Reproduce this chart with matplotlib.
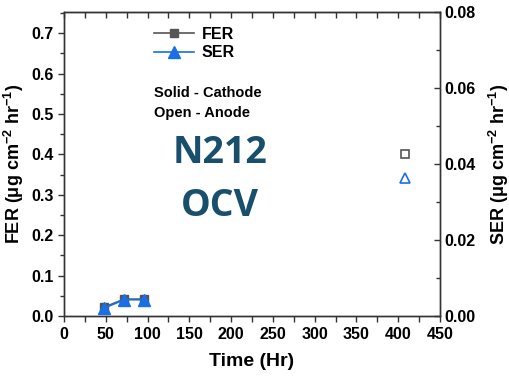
import numpy as np
import matplotlib
matplotlib.use('Agg')
import matplotlib.pyplot as plt
from matplotlib.ticker import MultipleLocator, FormatStrFormatter

plt.rcParams['font.family'] = ['Liberation Sans', 'DejaVu Sans']
plt.rcParams['font.weight'] = 'bold'
plt.rcParams['mathtext.fontset'] = 'custom'
plt.rcParams['mathtext.bf'] = 'Liberation Sans:bold'
plt.rcParams['mathtext.rm'] = 'Liberation Sans:bold'
plt.rcParams['mathtext.default'] = 'bf'

# cathode (solid) series
time_cath = [48, 72, 96]
fer_cath = [0.022, 0.042, 0.042]
ser_cath = [0.0021, 0.0043, 0.0043]

# anode (open) points
time_anode = [408]
fer_anode = [0.40]
ser_anode = [0.0363]

GRAY = '#555555'
BLUE = '#1a6ee6'
AX_C = '#333333'

fig = plt.figure(figsize=(5.1, 3.79), dpi=100)
ax = fig.add_axes([0.1255, 0.166, 0.7372, 0.802])
ax2 = ax.twinx()

ax.plot(time_cath, fer_cath, color=GRAY, marker='s', ms=6, lw=1.2, label='FER')
ax.plot(time_anode, fer_anode, ls='none', marker='s', ms=5.5, mfc='none',
        mec=GRAY, mew=1.2)
ax2.plot(time_cath, ser_cath, color=BLUE, marker='^', ms=8, lw=1.2, label='SER')
ax2.plot(time_anode, ser_anode, ls='none', marker='^', ms=6.5, mfc='none',
         mec=BLUE, mew=1.2)

ax.set_xlim(0, 450)
ax.set_ylim(0, 0.752)
ax2.set_ylim(0, 0.08)

ax.xaxis.set_major_locator(MultipleLocator(50))
ax.xaxis.set_minor_locator(MultipleLocator(25))
ax.yaxis.set_major_locator(MultipleLocator(0.1))
ax.yaxis.set_minor_locator(MultipleLocator(0.05))
ax.yaxis.set_major_formatter(FormatStrFormatter('%.1f'))
ax2.yaxis.set_major_locator(MultipleLocator(0.02))
ax2.yaxis.set_minor_locator(MultipleLocator(0.01))
ax2.yaxis.set_major_formatter(FormatStrFormatter('%.2f'))

ax.tick_params(axis='both', which='both', direction='out', labelsize=11.5,
               color=AX_C, width=1)
ax.tick_params(axis='both', which='major', length=4)
ax.tick_params(axis='x', which='minor', length=4)
ax.tick_params(axis='y', which='minor', length=3)
ax2.tick_params(axis='y', which='both', direction='in', labelsize=11.5,
                color=AX_C, width=1)
ax2.tick_params(axis='y', which='major', length=4)
ax2.tick_params(axis='y', which='minor', length=3)

# inward ticks on the top edge
top = ax.secondary_xaxis('top')
top.xaxis.set_major_locator(MultipleLocator(25))
top.tick_params(direction='in', length=4, width=1, color=AX_C, labeltop=False)
top.spines['top'].set_color(AX_C)

for a in (ax, ax2):
    for s in a.spines.values():
        s.set_color(AX_C)
        s.set_linewidth(1)

ax.set_xlabel('Time (Hr)', fontsize=14, fontweight='bold', labelpad=8)
ax.set_ylabel(r'FER ($\mu$g cm$^{-2}$ hr$^{-1}$)', fontsize=13,
              fontweight='bold', labelpad=4)
ax2.set_ylabel(r'SER ($\mu$g cm$^{-2}$ hr$^{-1}$)', fontsize=13,
               fontweight='bold', labelpad=8)

h1, l1 = ax.get_legend_handles_labels()
h2, l2 = ax2.get_legend_handles_labels()
leg = ax.legend(h1 + h2, l1 + l2, loc='upper left', bbox_to_anchor=(0.20, 1.0),
                frameon=False, fontsize=11.5,
                handlelength=2.5, labelspacing=0.25, handletextpad=0.5)
for t in leg.get_texts():
    t.set_fontweight('bold')

ax.text(0.24, 0.72, 'Solid - Cathode', transform=ax.transAxes, fontsize=10.5,
        fontweight='bold')
ax.text(0.24, 0.655, 'Open - Anode', transform=ax.transAxes, fontsize=10.5,
        fontweight='bold')
ax.text(0.415, 0.505, 'N212', transform=ax.transAxes, fontsize=27,
        fontweight='bold', color='#174f6d', family='Open Sans', ha='center')
ax.text(0.415, 0.33, 'OCV', transform=ax.transAxes, fontsize=27,
        fontweight='bold', color='#174f6d', family='Open Sans', ha='center')

fig.savefig('out.png', dpi=100)
